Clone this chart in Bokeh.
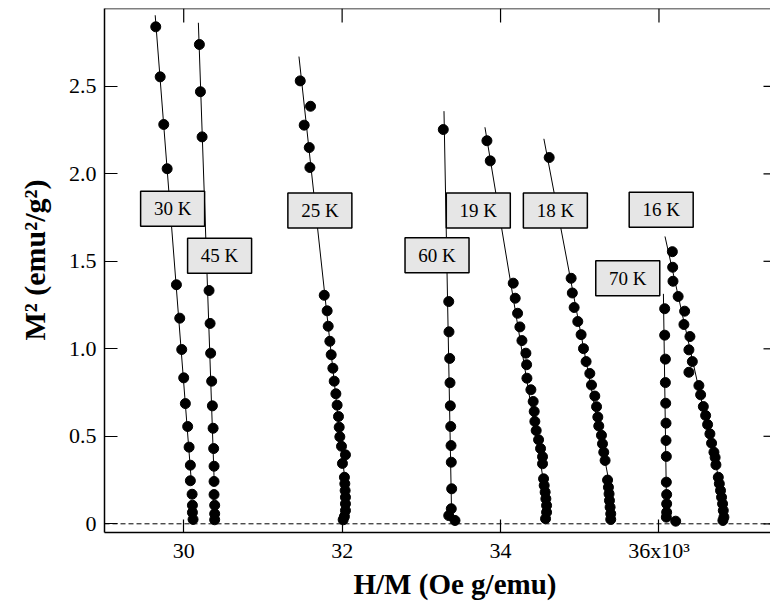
from bokeh.plotting import figure
from bokeh.models import ColumnDataSource, FixedTicker, Span, Title
from bokeh.core.properties import value
from bokeh.embed import file_html
from bokeh.resources import INLINE
import math

# ---- data ----
t30_x = [29647, 29703, 29748, 29791, 29908, 29950, 29975, 30000, 30021, 30050, 30068, 30084, 30084, 30106, 30110, 30110, 30118]
t30_y = [2.840, 2.554, 2.282, 2.029, 1.366, 1.175, 0.996, 0.834, 0.687, 0.556, 0.438, 0.335, 0.246, 0.169, 0.106, 0.065, 0.025]

t45_x = [30198, 30211, 30232, 30320, 30333, 30340, 30353, 30362, 30371, 30378, 30383, 30383, 30383, 30391, 30391, 30391]
t45_y = [2.739, 2.469, 2.211, 1.333, 1.145, 0.975, 0.815, 0.674, 0.546, 0.430, 0.329, 0.242, 0.167, 0.106, 0.057, 0.023]

t25_x = [31471, 31601, 31521, 31585, 31593, 31774, 31811, 31824, 31845, 31862, 31883, 31900, 31921, 31937,
         31954, 31963, 31971, 31992, 32042, 32004, 32029, 32034, 32038, 32042, 32042, 32042, 32029, 32013]
t25_y = [2.531, 2.386, 2.278, 2.150, 2.036, 1.306, 1.217, 1.129, 1.043, 0.966, 0.889, 0.815, 0.743, 0.678,
         0.613, 0.552, 0.497, 0.443, 0.394, 0.345, 0.266, 0.229, 0.190, 0.152, 0.114, 0.076, 0.042, 0.023]

t60_x = [33277, 33346, 33349, 33358, 33362, 33366, 33371, 33375, 33378, 33383, 33378, 33346, 33425]
t60_y = [2.253, 1.270, 1.097, 0.945, 0.806, 0.674, 0.556, 0.447, 0.352, 0.200, 0.086, 0.047, 0.019]

t19_x = [33828, 33870, 34160, 34185, 34215, 34244, 34270, 34320, 34329, 34333, 34383, 34412, 34425, 34433,
         34450, 34480, 34505, 34530, 34530, 34543, 34551, 34563, 34572, 34581, 34581, 34568]
t19_y = [2.189, 2.074, 1.375, 1.289, 1.203, 1.125, 1.047, 0.975, 0.909, 0.832, 0.766, 0.699, 0.642, 0.585,
         0.533, 0.480, 0.430, 0.383, 0.343, 0.257, 0.219, 0.181, 0.143, 0.105, 0.066, 0.029]

t18_x = [34614, 34891, 34906, 34929, 34975, 35017, 35047, 35080, 35127, 35148, 35190, 35212, 35228, 35240,
         35274, 35287, 35303, 35320, 35351, 35362, 35370, 35375, 35383, 35391, 35391]
t18_y = [2.093, 1.403, 1.319, 1.236, 1.156, 1.081, 1.001, 0.927, 0.859, 0.793, 0.730, 0.669, 0.610, 0.559,
         0.506, 0.457, 0.409, 0.362, 0.250, 0.209, 0.171, 0.133, 0.095, 0.057, 0.025]

t70_x = [36072, 36072, 36081, 36081, 36085, 36089, 36089, 36093, 36093, 36097, 36097, 36097, 36093, 36211]
t70_y = [1.229, 1.078, 0.941, 0.807, 0.689, 0.575, 0.476, 0.385, 0.238, 0.167, 0.114, 0.066, 0.038, 0.015]

t16_x = [36169, 36173, 36177, 36242, 36324, 36315, 36391, 36378, 36421, 36378, 36504, 36526, 36560, 36589,
         36614, 36643, 36664, 36694, 36709, 36719, 36749, 36762, 36777, 36790, 36803, 36812, 36820, 36807]
t16_y = [1.555, 1.466, 1.386, 1.299, 1.215, 1.139, 1.070, 0.994, 0.927, 0.866, 0.790, 0.737, 0.670, 0.619,
         0.567, 0.514, 0.461, 0.409, 0.379, 0.337, 0.266, 0.229, 0.190, 0.152, 0.114, 0.076, 0.038, 0.019]

# linear fits (start / end points), order: 30, 45, 25, 60, 19, 18, 70, 16 K
fit_x0 = [29640, 30185, 31455, 33286, 33803, 34547, 36056, 36076]
fit_y0 = [2.906, 2.863, 2.670, 2.358, 2.266, 2.200, 1.314, 1.642]
fit_x1 = [30095, 30385, 32035, 33380, 34540, 35365, 36097, 36760]
fit_y1 = [0.25, 0.24, 0.25, 0.10, 0.25, 0.25, 0.04, 0.25]

label_text = ["30 K", "45 K", "25 K", "60 K", "19 K", "18 K", "70 K", "16 K"]
label_x = [29860, 30453, 31719, 33198, 33719, 34692, 35606, 36028]
label_y = [1.800, 1.532, 1.790, 1.534, 1.790, 1.790, 1.403, 1.794]

x_ticks = [30000, 32000, 34000, 36000]
x_tick_labels = ["30", "32", "34", "36x10\u00b3"]
y_ticks = [0, 0.5, 1.0, 1.5, 2.0, 2.5]
y_tick_labels = ["0", "0.5", "1.0", "1.5", "2.0", "2.5"]

x_title = "H/M (Oe g/emu)"
y_title = "M\u00b2 (emu\u00b2/g\u00b2)"

X_START, X_END = 29000, 37408
Y_START, Y_END = -0.0497, 2.9446

FONT = "Liberation Serif"

p = figure(width=770, height=603, output_backend="svg", toolbar_location=None,
           x_range=(X_START, X_END), y_range=(Y_START, Y_END),
           min_border_left=103, min_border_right=0, min_border_top=8, min_border_bottom=71)
p.outline_line_color = None
p.grid.visible = False
p.background_fill_color = "white"

xa = p.xaxis[0]
ya = p.yaxis[0]
for ax, ticks, labels in ((xa, x_ticks, x_tick_labels), (ya, y_ticks, y_tick_labels)):
    ax.ticker = FixedTicker(ticks=ticks)
    ax.major_label_overrides = {t: l for t, l in zip(ticks, labels)}
    ax.major_tick_in = 13
    ax.major_tick_out = 0
    ax.minor_tick_in = 0
    ax.minor_tick_out = 0
    ax.axis_line_width = 1.5
    ax.major_tick_line_width = 1.2
    ax.axis_line_color = "black"
    ax.major_tick_line_color = "black"
    ax.major_label_text_font = FONT
    ax.major_label_text_font_size = "22px"
    ax.major_label_text_color = "black"
xa.major_label_standoff = 5
ya.major_label_standoff = 8

# axis titles as side titles, offset like the reference
p.add_layout(Title(text=x_title, align="left", offset=249, standoff=0, text_font=FONT,
                   text_font_size="29px", text_font_style="bold", text_color="black"), "below")
p.add_layout(Title(text=y_title, align="left", offset=192, standoff=30, text_font=FONT,
                   text_font_size="30px", text_font_style="bold", text_color="black"), "left")

# top frame line and mirrored ticks (top / right)
p.add_layout(Span(location=Y_END, dimension="width", line_color="black", line_width=1.5))
p.ray(x=x_ticks, y=[Y_END] * len(x_ticks), length=14, length_units="screen",
      angle=-math.pi / 2, line_color="black", line_width=1.2)
p.ray(x=[X_END] * len(y_ticks), y=y_ticks, length=7, length_units="screen",
      angle=math.pi, line_color="black", line_width=1.2)

# zero line
p.add_layout(Span(location=0, dimension="width", line_color="black", line_width=1, line_dash="5 3"))

# fit lines
p.segment(x0=fit_x0, y0=fit_y0, x1=fit_x1, y1=fit_y1, line_color="black", line_width=1)

# data points
for xs, ys in ((t30_x, t30_y), (t45_x, t45_y), (t25_x, t25_y), (t60_x, t60_y),
               (t19_x, t19_y), (t18_x, t18_y), (t70_x, t70_y), (t16_x, t16_y)):
    p.scatter(xs, ys, size=10, marker="circle", fill_color="black", line_color="black")

# temperature labels
lsrc = ColumnDataSource(dict(x=label_x, y=label_y, t=label_text))
p.rect(x="x", y="y", width=64, height=35, width_units="screen", height_units="screen",
       fill_color="#e6e6e6", line_color="black", line_width=1.5, source=lsrc)
p.text(x="x", y="y", text="t", source=lsrc, text_font=value(FONT), text_font_size="19px",
       text_align="center", text_baseline="middle", text_color="black")

open("out.html", "w").write(file_html(p, INLINE))
